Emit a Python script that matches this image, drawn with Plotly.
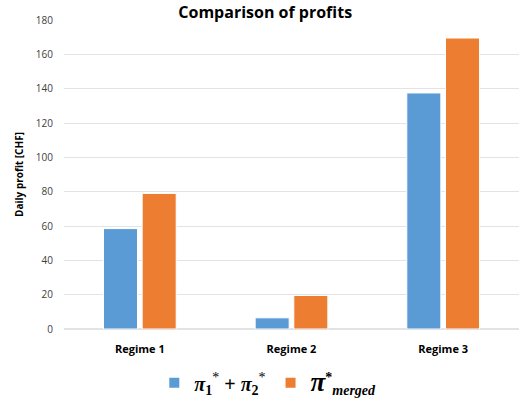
import plotly.graph_objects as go

categories = ["Regime 1", "Regime 2", "Regime 3"]
sum_individual = [58.5, 6.5, 137.5]
merged = [79.0, 19.5, 169.5]
y_ticks = [0, 20, 40, 60, 80, 100, 120, 140, 160, 180]

BLUE = "#5b9bd5"
ORANGE = "#ed7d31"
TEXT = "#000000"
TICK = "#404040"
FONT = "Open Sans"

name_sum = ('<span style="font-size:20px"><b><i>π</i></b><sub><b>1</b></sub><sup>*</sup>'
            ' <b>+</b> <b><i>π</i></b><sub><b>2</b></sub><sup>*</sup></span>')
name_merged = ('<span style="font-size:27px"><b><i>π</i></b></span>'
               '<sup><b>*</b></sup><sub><b><i>merged</i></b></sub>')

fig = go.Figure()
fig.add_trace(go.Bar(
    x=categories, y=sum_individual, name=name_sum,
    marker=dict(color=BLUE, line=dict(color="white", width=1)),
))
fig.add_trace(go.Bar(
    x=categories, y=merged, name=name_merged,
    marker=dict(color=ORANGE, line=dict(color="white", width=1)),
))

fig.update_layout(
    width=520, height=403,
    margin=dict(l=64, r=1, t=20, b=74, autoexpand=False),
    paper_bgcolor="white", plot_bgcolor="white",
    barmode="group", bargap=0.49, bargroupgap=0.12,
    title=dict(text="<b>Comparison of profits</b>", x=0.51, xanchor="center",
               y=0.968, yanchor="middle",
               font=dict(family=FONT, size=16, color=TEXT)),
    showlegend=True,
    legend=dict(orientation="h", xref="container", yref="container",
                x=0.515, xanchor="center", y=0.05, yanchor="middle",
                font=dict(family="Liberation Serif", size=20, color=TEXT),
                itemsizing="constant", traceorder="normal"),
)
fig.update_xaxes(
    showgrid=False, showline=False, ticks="", automargin=False,
    tickfont=dict(family=FONT, size=11, color=TEXT),
    tickprefix="<b>", ticksuffix="</b>", ticklabelstandoff=12,
)
fig.update_yaxes(
    range=[0, 180], tickvals=y_ticks, showline=False, ticks="", automargin=False,
    gridcolor="#e3e3e3", gridwidth=1, zeroline=True, zerolinecolor="#e3e3e3",
    tickfont=dict(family=FONT, size=10, color=TICK),
    tickprefix="<b>", ticksuffix="</b>", ticklabelstandoff=10,
    title=dict(text="<b>Daily profit [CHF]</b>", standoff=10,
               font=dict(family=FONT, size=10, color=TEXT)),
)

fig.write_html("out.html")
